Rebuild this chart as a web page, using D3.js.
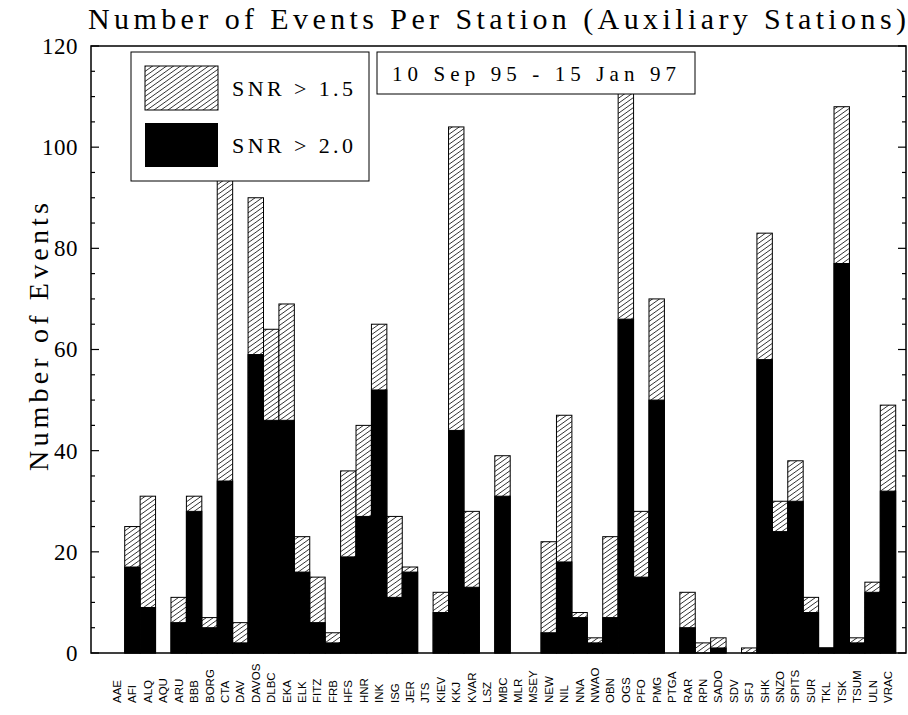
<!DOCTYPE html>
<html>
<head>
<meta charset="utf-8">
<script src="https://cdn.jsdelivr.net/npm/d3@7/dist/d3.min.js"></script>
<style>
  html, body { margin: 0; padding: 0; background: #fff; }
  svg { display: block; }
</style>
</head>
<body>
<svg id="chart" width="908" height="715"></svg>
<script>
// ---- data ----
const stations = ["AAE","AFI","ALQ","AQU","ARU","BBB","BORG","CTA","DAV","DAVOS","DLBC","EKA","ELK","FITZ","FRB","HFS","HNR","INK","ISG","JER","JTS","KIEV","KKJ","KVAR","LSZ","MBC","MLR","MSEY","NEW","NIL","NNA","NWAO","OBN","OGS","PFO","PMG","PTGA","RAR","RPN","SADO","SDV","SFJ","SHK","SNZO","SPITS","SUR","TKL","TSK","TSUM","ULN","VRAC"];
const snr15 = [0,25,31,0,11,31,7,96,6,90,64,69,23,15,4,36,45,65,27,17,0,12,104,28,0,39,0,0,22,47,8,3,23,112,28,70,0,12,2,3,0,1,83,30,38,11,1,108,3,14,49];
const snr20 = [0,17,9,0,6,28,5,34,2,59,46,46,16,6,2,19,27,52,11,16,0,8,44,13,0,31,0,0,4,18,7,2,7,66,15,50,0,5,0,1,0,0,58,24,30,8,1,77,2,12,32];
const yTicks = [0,20,40,60,80,100,120];
const titleText = "Number of Events Per Station (Auxiliary Stations)";
const yLabel = "Number of Events";
const legendLabels = ["SNR > 1.5", "SNR > 2.0"];
const dateText = "10 Sep 95  -  15 Jan 97";

// ---- layout ----
const svg = d3.select("#chart");
const L = 91, R = 906, T = 46, B = 653;
const serif = "'Liberation Serif', 'DejaVu Serif', serif";
const sans = "'Liberation Sans', Arial, sans-serif";

const x = d3.scaleBand().domain(stations).range([109.3, 895.7]).padding(0);
const y = d3.scaleLinear().domain([0, 120]).range([B, T]);

// hatch pattern
const defs = svg.append("defs");
const pw = 7, ph = 5;
const pat = defs.append("pattern")
  .attr("id", "hatch").attr("patternUnits", "userSpaceOnUse")
  .attr("width", pw).attr("height", ph);
pat.append("rect").attr("width", pw).attr("height", ph).attr("fill", "#fff");
pat.append("path")
  .attr("d", `M${-pw},${ph*2} L${pw*2},${-ph} M${-pw*2},${ph*2} L${pw},${-ph} M0,${ph*2} L${pw*3},${-ph}`)
  .attr("stroke", "#000").attr("stroke-width", 0.8).attr("fill", "none");

const data = stations.map((s, i) => ({ s, a: snr15[i], b: snr20[i] }));

// bars
const g = svg.append("g");
g.selectAll("rect.h").data(data.filter(d => d.a > 0)).join("rect")
  .attr("class", "h")
  .attr("x", d => x(d.s)).attr("width", x.bandwidth())
  .attr("y", d => y(d.a)).attr("height", d => y(0) - y(d.a))
  .attr("fill", "url(#hatch)").attr("stroke", "#000").attr("stroke-width", 1);
g.selectAll("rect.b").data(data.filter(d => d.b > 0)).join("rect")
  .attr("class", "b")
  .attr("x", d => x(d.s)).attr("width", x.bandwidth())
  .attr("y", d => y(d.b)).attr("height", d => y(0) - y(d.b))
  .attr("fill", "#000").attr("stroke", "#000").attr("stroke-width", 1);

// frame
svg.append("rect").attr("x", L).attr("y", T).attr("width", R - L).attr("height", B - T)
  .attr("fill", "none").attr("stroke", "#000").attr("stroke-width", 1.5);

// left axis ticks (major every 20, minor every 5)
const minor = d3.range(0, 121, 5);
const gl = svg.append("g").attr("transform", `translate(${L},0)`);
gl.selectAll("line.t").data(minor).join("line")
  .attr("x1", 0).attr("x2", d => d % 20 === 0 ? 8 : 4)
  .attr("y1", d => y(d)).attr("y2", d => y(d))
  .attr("stroke", "#000").attr("stroke-width", 1.2);
const labAxis = d3.axisLeft(y).tickValues(yTicks).tickSize(0).tickPadding(13);
const glab = svg.append("g").attr("transform", `translate(${L},0)`).call(labAxis);
glab.select(".domain").remove();
glab.selectAll("text").attr("font-family", serif).attr("font-size", 23)
  .attr("fill", "#000").attr("letter-spacing", 0.5);

// right axis ticks
const gr = svg.append("g").attr("transform", `translate(${R},0)`);
gr.selectAll("line.t").data(minor).join("line")
  .attr("x1", 0).attr("x2", d => d % 20 === 0 ? -8 : -4)
  .attr("y1", d => y(d)).attr("y2", d => y(d))
  .attr("stroke", "#000").attr("stroke-width", 1.2);

// x labels
const xAxis = d3.axisBottom(x).tickSize(0).tickPadding(0);
const gx = svg.append("g").attr("transform", `translate(0,${B})`).call(xAxis);
gx.select(".domain").remove();
gx.selectAll("text")
  .attr("font-family", sans).attr("font-size", 11.5).attr("fill", "#000")
  .attr("text-anchor", "start").attr("dy", null).attr("y", 0)
  .attr("transform", "translate(4,50) rotate(-90)");

// legend
const lg = svg.append("g");
lg.append("rect").attr("x", 131).attr("y", 52).attr("width", 238).attr("height", 129)
  .attr("fill", "#fff").attr("stroke", "#000").attr("stroke-width", 1);
lg.append("rect").attr("x", 145).attr("y", 66).attr("width", 73).attr("height", 44)
  .attr("fill", "url(#hatch)").attr("stroke", "#000").attr("stroke-width", 1);
lg.append("rect").attr("x", 145).attr("y", 123).attr("width", 73).attr("height", 44)
  .attr("fill", "#000");
lg.selectAll("text").data(legendLabels).join("text")
  .attr("x", 232).attr("y", (d, i) => 96 + i * 57)
  .attr("font-family", serif).attr("font-size", 22).attr("fill", "#000")
  .attr("textLength", 121).attr("lengthAdjust", "spacing")
  .text(d => d);

// date box
svg.append("rect").attr("x", 377).attr("y", 52).attr("width", 318).attr("height", 42)
  .attr("fill", "#fff").attr("stroke", "#000").attr("stroke-width", 1);
svg.append("text").attr("x", 392).attr("y", 81)
  .attr("font-family", serif).attr("font-size", 21).attr("fill", "#000")
  .attr("textLength", 284).attr("lengthAdjust", "spacing")
  .text(dateText);

// title
svg.append("text").attr("x", 88).attr("y", 29)
  .attr("font-family", serif).attr("font-size", 30).attr("fill", "#000")
  .attr("textLength", 818).attr("lengthAdjust", "spacing")
  .text(titleText);

// y label
svg.append("text")
  .attr("transform", `translate(48,337) rotate(-90)`)
  .attr("text-anchor", "middle")
  .attr("font-family", serif).attr("font-size", 28).attr("fill", "#000")
  .attr("textLength", 268).attr("lengthAdjust", "spacing")
  .text(yLabel);
</script>
</body>
</html>
